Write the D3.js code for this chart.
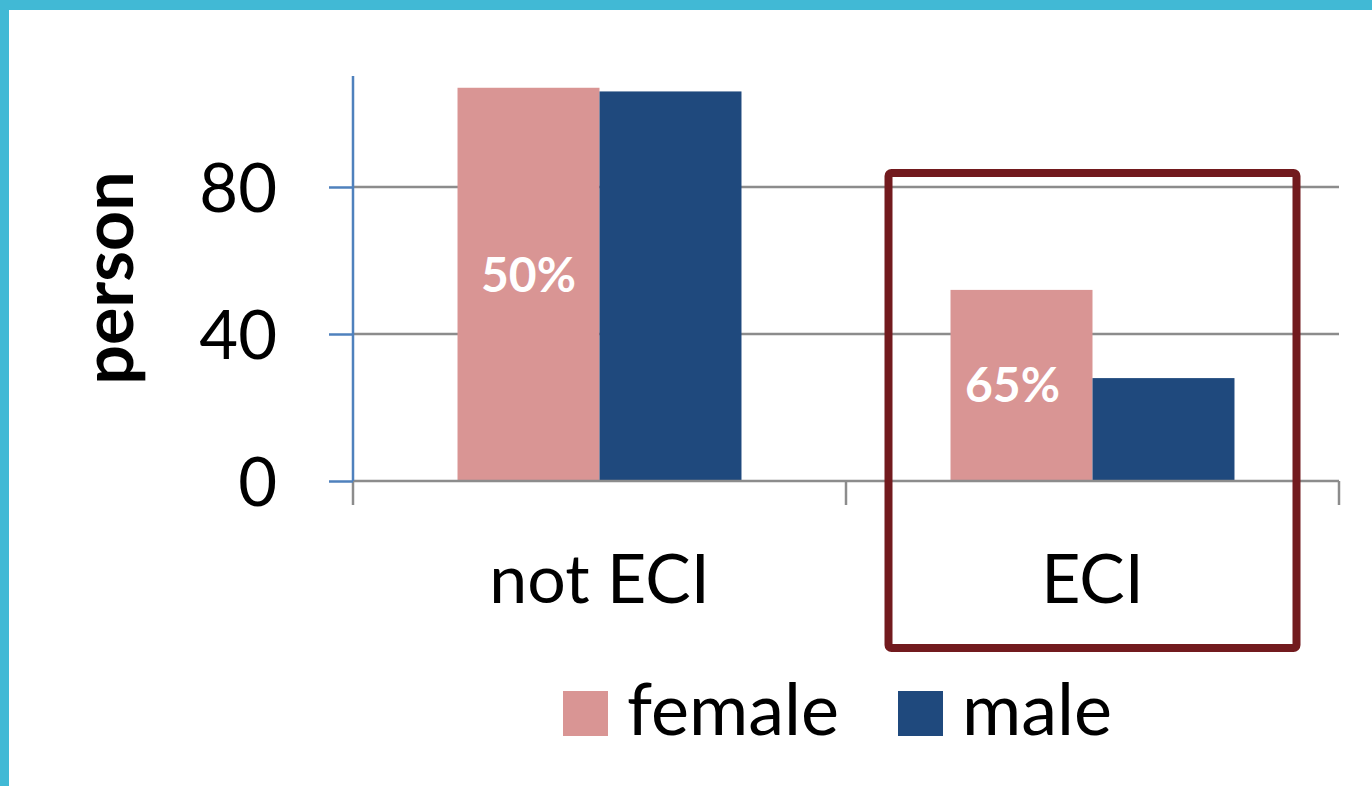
<!DOCTYPE html>
<html>
<head>
<meta charset="utf-8">
<script src="https://cdn.jsdelivr.net/npm/d3@7"></script>
<style>
  body { margin: 0; background: #fff; }
  svg { display: block; font-family: Lato, "Open Sans", sans-serif; }
</style>
</head>
<body>
<svg id="vis" width="1372" height="786"></svg>
<script>
// data
const categories = ["not ECI", "ECI"]
const seriesNames = ["female", "male"]
const femaleValues = [107, 52]
const maleValues = [106, 28]
const femaleShare = ["50%", "65%"]
const yTicks = [0, 40, 80]

const colors = { female: "#D99594", male: "#1F497D" }

const svg = d3.select("#vis")
const margin = { top: 76, left: 353, right: 33, bottom: 305 }
const width = 1372 - margin.left - margin.right
const height = 786 - margin.top - margin.bottom

// frame
svg.append("rect").attr("x", 0).attr("y", 0).attr("width", 1372).attr("height", 10).attr("fill", "#41B9D5")
svg.append("rect").attr("x", 0).attr("y", 0).attr("width", 9).attr("height", 786).attr("fill", "#41B9D5")

const chart = svg.append("g").attr("transform", `translate(${margin.left},${margin.top})`)

const x0 = d3.scaleBand().domain(categories).range([0, width]).paddingInner(0.424).paddingOuter(0.212)
const x1 = d3.scaleBand().domain(seriesNames).range([0, x0.bandwidth()])
const y = d3.scaleLinear().domain([0, 110.2]).range([height, 0])

// gridlines
chart.append("g")
  .selectAll("line")
  .data(yTicks.filter(d => d > 0))
  .join("line")
  .attr("x1", 0).attr("x2", width)
  .attr("y1", d => y(d)).attr("y2", d => y(d))
  .attr("stroke", "#8C8C8C").attr("stroke-width", 2.5)

// bars
const rows = categories.map((c, i) => ({ cat: c, female: femaleValues[i], male: maleValues[i], share: femaleShare[i] }))

const groups = chart.append("g")
  .selectAll("g")
  .data(rows)
  .join("g")
  .attr("transform", d => `translate(${x0(d.cat)},0)`)

groups.selectAll("rect")
  .data(d => seriesNames.map(s => ({ key: s, value: d[s] })))
  .join("rect")
  .attr("x", d => x1(d.key))
  .attr("y", d => y(d.value))
  .attr("width", x1.bandwidth())
  .attr("height", d => height - y(d.value))
  .attr("fill", d => colors[d.key])

// percentage labels in the female bars
groups.append("text")
  .attr("x", (d, i) => x1("female") + x1.bandwidth() / 2 - (i === 1 ? 9 : 0))
  .attr("y", (d, i) => i === 0 ? 292 - margin.top : 402 - margin.top)
  .attr("text-anchor", "middle")
  .attr("fill", "#fff")
  .attr("font-weight", "bold")
  .attr("font-size", 48)
  .text(d => d.share)

// baseline + category ticks
chart.append("line")
  .attr("x1", 0).attr("x2", width)
  .attr("y1", height).attr("y2", height)
  .attr("stroke", "#8C8C8C").attr("stroke-width", 2.5)

chart.append("g")
  .selectAll("line")
  .data([0, 1, 2])
  .join("line")
  .attr("x1", i => i * x0.step()).attr("x2", i => i * x0.step())
  .attr("y1", height).attr("y2", height + 24)
  .attr("stroke", "#8C8C8C").attr("stroke-width", 2.5)

// y axis (blue)
const yAxis = chart.append("g")
  .call(d3.axisLeft(y).tickValues(yTicks).tickSize(24).tickPadding(52).tickFormat(d3.format("d")))
yAxis.select(".domain").remove()
yAxis.selectAll(".tick line").attr("stroke", "#4F81BD").attr("stroke-width", 2.5)
yAxis.selectAll(".tick text")
  .attr("font-family", "Lato, sans-serif")
  .attr("font-size", 67)
  .attr("fill", "#000")
  .attr("dy", "0.36em")
chart.append("line")
  .attr("x1", 0).attr("x2", 0).attr("y1", 0).attr("y2", height)
  .attr("stroke", "#4F81BD").attr("stroke-width", 2.5)

// category labels
chart.append("g")
  .selectAll("text")
  .data(categories)
  .join("text")
  .attr("x", d => x0(d) + x0.bandwidth() / 2)
  .attr("y", 603 - margin.top)
  .attr("text-anchor", "middle")
  .attr("font-size", 68)
  .attr("fill", "#000")
  .text(d => d)

// y title
svg.append("text")
  .attr("transform", "translate(133,278) rotate(-90)")
  .attr("text-anchor", "middle")
  .attr("font-weight", "bold")
  .attr("font-size", 70)
  .attr("fill", "#000")
  .text("person")

// highlight box around ECI
const cx = margin.left + x0("ECI") + x0.bandwidth() / 2
svg.append("rect")
  .attr("x", cx - 204).attr("y", 173)
  .attr("width", 408).attr("height", 475)
  .attr("rx", 3)
  .attr("fill", "none")
  .attr("stroke", "#721A1E")
  .attr("stroke-width", 8)

// legend
const legend = svg.append("g")
const legendX = [563, 898]
seriesNames.forEach((s, i) => {
  legend.append("rect")
    .attr("x", legendX[i]).attr("y", 691)
    .attr("width", 45).attr("height", 45)
    .attr("fill", colors[s])
  legend.append("text")
    .attr("x", legendX[i] + 64).attr("y", 735)
    .attr("font-size", 72)
    .attr("fill", "#000")
    .text(s)
})
</script>
</body>
</html>
